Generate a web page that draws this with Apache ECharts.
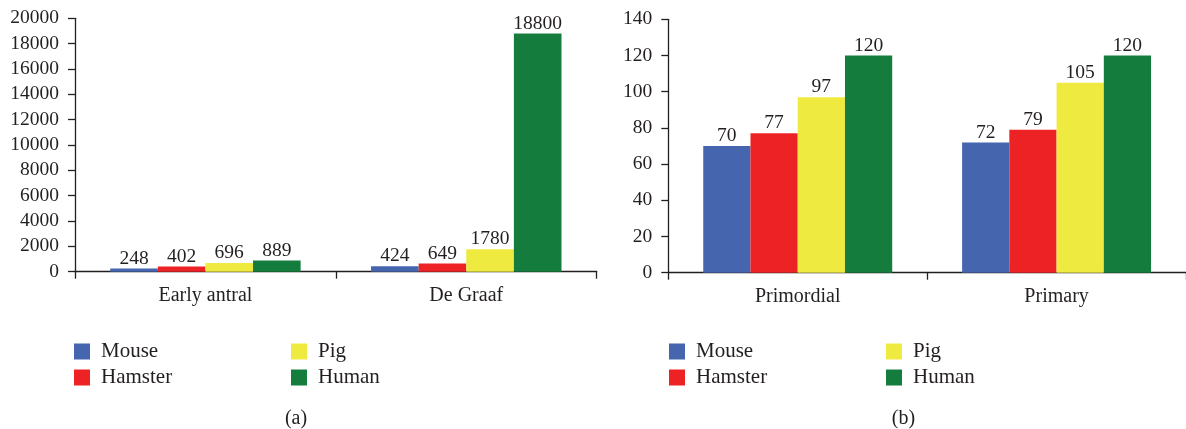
<!DOCTYPE html>
<html>
<head>
<meta charset="utf-8">
<script src="https://cdn.jsdelivr.net/npm/echarts@6/dist/echarts.min.js"></script>
<style>
  html, body { margin: 0; padding: 0; background: #fff; }
  #chart { width: 1186px; height: 429px; }
</style>
</head>
<body>
<div id="chart"></div>
<script>
// panel (a)
var catsA = ['Early antral', 'De Graaf']
var mouseA = [248, 424]
var hamsterA = [402, 649]
var pigA = [696, 1780]
var humanA = [889, 18800]

// panel (b)
var catsB = ['Primordial', 'Primary']
var mouseB = [70, 72]
var hamsterB = [77, 79]
var pigB = [97, 105]
var humanB = [120, 120]

var species = ['Mouse', 'Hamster', 'Pig', 'Human']
var colors = ['#4565ae', '#ed2224', '#eeea40', '#147c3c']
var ink = '#231f20'
var font = '"Liberation Serif", "DejaVu Serif", serif'

function xAxisFor(cats, gridIndex) {
  return {
    type: 'category',
    gridIndex: gridIndex,
    data: cats,
    axisLine: { lineStyle: { color: ink, width: 1.3 } },
    axisTick: { show: true, length: 7, lineStyle: { color: ink, width: 1.3 } },
    axisLabel: { color: ink, fontFamily: font, fontSize: 20, margin: 14 }
  }
}

function yAxisFor(max, step, gridIndex) {
  return {
    type: 'value',
    gridIndex: gridIndex,
    min: 0,
    max: max,
    interval: step,
    splitLine: { show: false },
    axisLine: { show: true, lineStyle: { color: ink, width: 1.3 } },
    axisTick: { show: true, length: 7, lineStyle: { color: ink, width: 1.3 } },
    axisLabel: {
      color: ink, fontFamily: font, fontSize: 19.5, margin: 16,
      formatter: function (v) { return String(v) }
    }
  }
}

function barFor(name, data, i, gridIndex) {
  return {
    name: name,
    type: 'bar',
    xAxisIndex: gridIndex,
    yAxisIndex: gridIndex,
    data: data,
    barGap: 0,
    barCategoryGap: '27%',
    itemStyle: { color: colors[i] },
    label: {
      show: true,
      position: 'top',
      distance: 0,
      color: ink,
      fontFamily: font,
      fontSize: 19.5
    }
  }
}

function legendFor(names, left) {
  return {
    orient: 'vertical',
    left: left,
    top: 341,
    padding: 0,
    itemWidth: 16,
    itemHeight: 16,
    itemGap: 5,
    icon: 'rect',
    selectedMode: false,
    data: names,
    textStyle: { color: ink, fontFamily: font, fontSize: 21, padding: [0, 0, 0, 6] }
  }
}

var seriesA = [mouseA, hamsterA, pigA, humanA]
var seriesB = [mouseB, hamsterB, pigB, humanB]
var series = []
species.forEach(function (s, i) { series.push(barFor(s, seriesA[i], i, 0)) })
species.forEach(function (s, i) { series.push(barFor(s, seriesB[i], i, 1)) })

var option = {
  backgroundColor: '#fff',
  animation: false,
  color: colors,
  grid: [
    { left: 75, top: 18.3, width: 521.7, height: 253.4 },
    { left: 668.3, top: 19.3, width: 523.4, height: 253.4 }
  ],
  xAxis: [xAxisFor(catsA, 0), xAxisFor(catsB, 1)],
  yAxis: [yAxisFor(20000, 2000, 0), yAxisFor(140, 20, 1)],
  legend: [
    legendFor(['Mouse', 'Hamster'], 74),
    legendFor(['Pig', 'Human'], 291),
    legendFor(['Mouse', 'Hamster'], 669),
    legendFor(['Pig', 'Human'], 886)
  ],
  title: [
    { text: '(a)', left: 296, top: 409, textAlign: 'center', padding: 0,
      textStyle: { color: ink, fontFamily: font, fontSize: 20, fontWeight: 'normal' } },
    { text: '(b)', left: 903.5, top: 409, textAlign: 'center', padding: 0,
      textStyle: { color: ink, fontFamily: font, fontSize: 20, fontWeight: 'normal' } }
  ],
  series: series
}

var myChart = echarts.init(document.getElementById('chart'), null, { renderer: 'canvas' })
myChart.setOption(option)
</script>
</body>
</html>
